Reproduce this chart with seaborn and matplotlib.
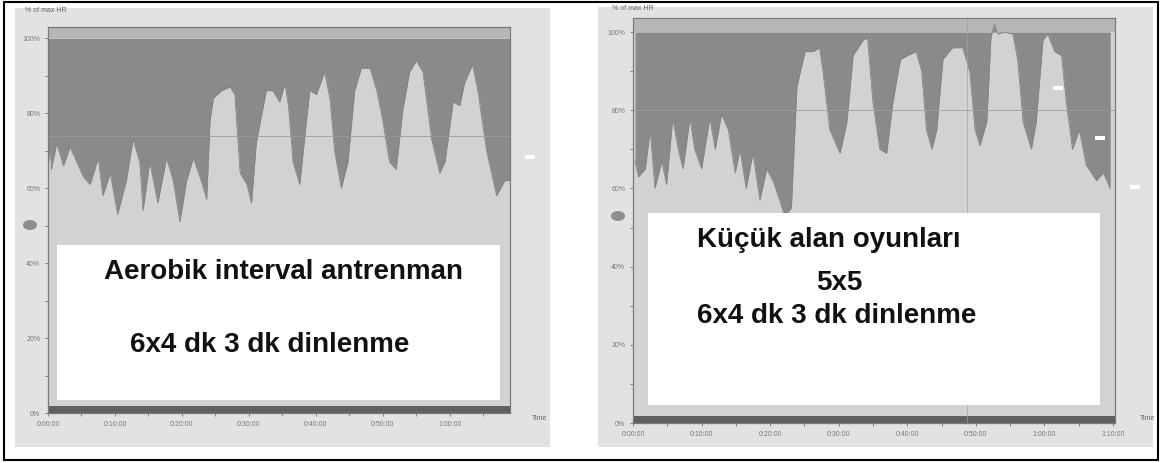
import seaborn as sns
import matplotlib.pyplot as plt
from matplotlib.patches import Rectangle, Ellipse

# Nabız (% max HR) - sol: aerobik interval, sağ: küçük alan oyunları
left_t = [0, 0.3, 0.5, 1.3, 2.3, 3.3, 4.3, 5.3, 6.3, 7.5, 8.2, 9.3, 10.4, 11.7, 12.7,
          13.7, 14.2, 15.2, 16.4, 17.7, 18.7, 19.7, 20.7, 21.7, 22.7, 23.7, 24.2, 24.7,
          25.9, 27.2, 27.9, 28.7, 29.7, 30.4, 31.1, 32.6, 33.6, 34.6, 35.4, 35.9, 36.6,
          37.6, 38.6, 39.1, 40.1, 41.3, 42.1, 42.8, 43.8, 44.8, 45.8, 46.8, 48.1, 49.1,
          50.0, 51.0, 52.0, 53.0, 54.0, 55.0, 56.0, 57.3, 58.5, 59.3, 60.5, 61.5, 62.2,
          63.4, 64.2, 65.5, 67.0, 68.2, 69]
left_hr = [65, 72, 65, 72, 66, 71, 67, 63, 61, 68, 58, 64, 53, 62, 73,
           67, 54, 67, 56, 68, 62, 51, 62, 68, 63, 57, 78, 84,
           86, 87, 85, 64, 61, 56, 72, 86, 86, 83, 88, 82, 67,
           61, 78, 86, 85, 91, 84, 70, 60, 67, 86, 92, 92, 86,
           78, 67, 65, 81, 91, 94, 91, 73, 64, 67, 83, 82, 88,
           93, 86, 70, 58, 62, 62]

right_t = [0.3, 0.8, 1.8, 2.5, 3.2, 4.2, 4.9, 5.8, 6.6, 7.3, 8.3, 9.0, 10.0, 11.2, 12.0,
           12.9, 13.9, 14.9, 15.6, 16.5, 17.5, 18.5, 19.5, 20.4, 21.4, 22.1, 23.1, 23.9,
           25.1, 26.3, 27.2, 27.7, 28.7, 30.2, 31.2, 32.1, 33.6, 34.2, 35.0, 36.0, 37.0,
           37.9, 39.0, 40.1, 41.3, 42.1, 42.8, 43.6, 44.3, 45.2, 46.6, 48.1, 49.1, 49.9,
           50.6, 51.6, 52.2, 52.7, 53.2, 54.2, 55.4, 56.1, 56.9, 58.1, 58.8, 59.8, 60.5,
           61.5, 62.5, 63.2, 64.1, 65.1, 66.1, 67.6, 68.6, 69.6]
right_hr = [67, 63, 65, 75, 60, 67, 61, 78, 70, 65, 78, 70, 65, 78, 70,
            79, 75, 64, 70, 60, 69, 57, 65, 62, 57, 53, 55, 86,
            95, 95, 96, 90, 75, 69, 77, 94, 98, 98.5, 82, 70, 69,
            82, 93, 94, 95, 90, 75, 70, 75, 93, 96, 96, 90, 75,
            71, 77, 98.5, 102, 99.5, 100, 99.5, 93, 77, 70, 77, 98, 99.5,
            95, 94, 82, 70, 75, 66, 62, 64, 60]

y_ticks = [0, 20, 40, 60, 80, 100]
y_labels = ['0%', '20%', '40%', '60%', '80%', '100%']
x_ticks = [0, 10, 20, 30, 40, 50, 60, 70]
x_labels = ['0:00:00', '0:10:00', '0:20:00', '0:30:00', '0:40:00', '0:50:00', '1:00:00', '1:10:00']

left_text = ['Aerobik interval antrenman', '6x4 dk 3 dk dinlenme']
right_text = ['Küçük alan oyunları', '5x5', '6x4 dk 3 dk dinlenme']

sns.set_theme(style='white')
plt.rcParams['font.family'] = ['Liberation Sans', 'DejaVu Sans']

W, H = 1162, 463
fig = plt.figure(figsize=(W / 100, H / 100), dpi=100)
fig.patch.set_facecolor('white')


def px_rect(x0, y0, x1, y1, **kw):
    # dikdörtgen, piksel koordinatlarıyla (üst-sol orijin)
    return Rectangle((x0 / W, 1 - y1 / H), (x1 - x0) / W, (y1 - y0) / H,
                     transform=fig.transFigure, **kw)


# panel arka planları
fig.add_artist(px_rect(15, 8, 550, 447, facecolor='#e2e2e2', edgecolor='none', zorder=-2))
fig.add_artist(px_rect(598, 7, 1153, 447, facecolor='#e2e2e2', edgecolor='none', zorder=-2))


def hr_panel(ax, t, hr, xmax, ytop, ref):
    ax.set_facecolor('#d2d2d2')
    ax.axhspan(100, ytop + 5, color='#b6b6b6', lw=0)
    ax.fill_between(t, hr, 100, color='#8a8a8a', lw=0)
    sns.lineplot(x=t, y=hr, ax=ax, color='#838383', lw=0.6)
    ax.axhline(ref, color='#9a9a9a', lw=0.7, alpha=0.8)
    ax.axhspan(0, 1.8, color='#5f5f5f', lw=0)
    n = sum(1 for v in x_ticks if v <= xmax)
    ax.set_yticks(y_ticks)
    ax.set_yticklabels(y_labels)
    ax.set_yticks(range(10, 100, 20), minor=True)
    ax.set_xticks(x_ticks[:n])
    ax.set_xticklabels(x_labels[:n])
    ax.set_xticks([v for v in range(5, 70, 10) if v < xmax], minor=True)
    ax.set_xlim(0, xmax)
    ax.set_ylim(0, ytop)
    ax.tick_params(axis='both', which='both', direction='out', length=2.5, width=0.6,
                   color='#707070', labelsize=5, labelcolor='#7a7a7a', pad=3,
                   bottom=True, left=True)
    for s in ax.spines.values():
        s.set_color('#7a7a7a')
        s.set_linewidth(0.9)
    ax.set_xlabel('')
    ax.set_ylabel('')


ax1 = fig.add_axes([48 / W, 1 - 413 / H, 462 / W, 386 / H])
hr_panel(ax1, left_t, left_hr, 69.0, 103, 74)

ax2 = fig.add_axes([633 / W, 1 - 423 / H, 482 / W, 405 / H])
hr_panel(ax2, right_t, right_hr, 70.3, 103.6, 80)
ax2.axvline(48.7, color='#a0a0a0', lw=0.6, alpha=0.8)

# küçük etiketler
fig.text(25 / W, 1 - 11 / H, '% of max HR', fontsize=5, color='#666666', va='center')
fig.text(612 / W, 1 - 8 / H, '% of max HR', fontsize=5, color='#666666', va='center')
fig.text(532 / W, 1 - 419 / H, 'Time', fontsize=5, color='#666666', va='center')
fig.text(1140 / W, 1 - 418 / H, 'Time', fontsize=5, color='#666666', va='center')

# beyaz işaretler ve gri elipsler
for (x0, y0) in [(525, 155), (1053, 86), (1095, 136), (1130, 185)]:
    fig.add_artist(px_rect(x0, y0, x0 + 10, y0 + 4, facecolor='white', edgecolor='none', zorder=4))
for (cx, cy) in [(30, 225), (618, 216)]:
    fig.add_artist(Ellipse((cx / W, 1 - cy / H), 14 / W, 10 / H, transform=fig.transFigure,
                           facecolor='#8e8e8e', edgecolor='none', zorder=4))

# metin kutuları
fig.add_artist(px_rect(57, 245, 500, 400, facecolor='white', edgecolor='none', zorder=5))
fig.add_artist(px_rect(648, 213, 1100, 405, facecolor='white', edgecolor='none', zorder=5))

tkw = dict(fontsize=20, fontweight='bold', color='#111111', zorder=6, va='center')
fig.text(283 / W, 1 - 272 / H, left_text[0], ha='center', **tkw)
fig.text(270 / W, 1 - 345 / H, left_text[1], ha='center', **tkw)
fig.text(697 / W, 1 - 240 / H, right_text[0], ha='left', **tkw)
fig.text(839 / W, 1 - 283 / H, right_text[1], ha='center', **tkw)
fig.text(697 / W, 1 - 316 / H, right_text[2], ha='left', **tkw)

# dış çerçeve
fig.add_artist(px_rect(4, 2, 1158, 460, fill=False, edgecolor='black', lw=1.5, zorder=7))

plt.savefig('out.png', dpi=100)
